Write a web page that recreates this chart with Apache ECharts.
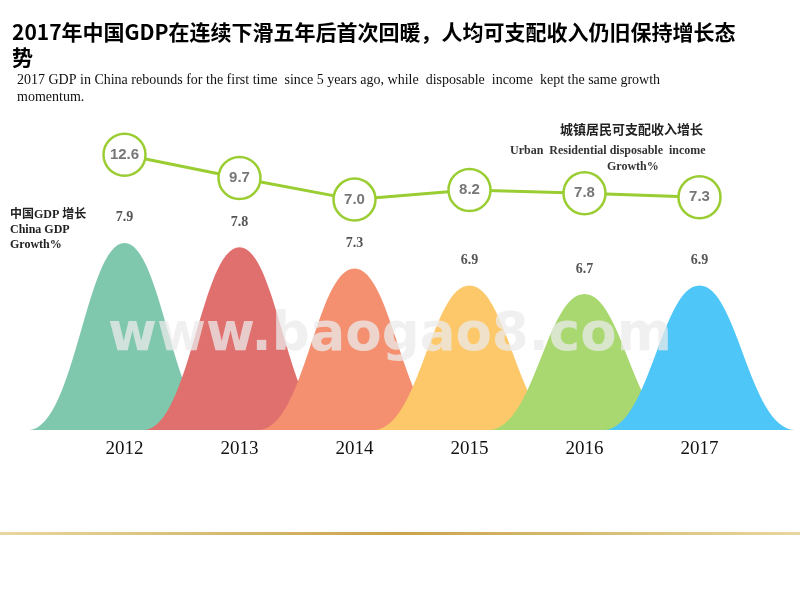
<!DOCTYPE html>
<html><head><meta charset="utf-8">
<script src="https://cdn.jsdelivr.net/npm/echarts@6/dist/echarts.min.js"></script>
<style>html,body{margin:0;background:#fff}#c{width:800px;height:600px}</style></head>
<body><div id="c"></div>
<script>
const years = ['2012','2013','2014','2015','2016','2017'];
const gdpGrowth = [7.9, 7.8, 7.3, 6.9, 6.7, 6.9];
const incomeGrowth = [12.6, 9.7, 7.0, 8.2, 7.8, 7.3];
const peakColors = ['#7fc8ad','#e0706e','#f48f70','#fdc86a','#a8d86f','#4ec6f8'];
const peakBase = 3.5;

const chart = echarts.init(document.getElementById('c'));
const serif = '"Liberation Serif","Noto Sans CJK SC",serif';
chart.setOption({
  backgroundColor:'#fff',
  grid:{left:67,right:43,top:100,bottom:170},
  xAxis:{type:'category',data:years,axisLine:{show:false},axisTick:{show:false},
    axisLabel:{fontFamily:serif,fontSize:19,color:'#111',margin:10}},
  yAxis:[{type:'value',min:0,max:7.76,show:false},
         {type:'value',min:-21.8,max:19.45,show:false}],
  graphic:[
    {type:'text',left:12,top:20,style:{text:'2017年中国GDP在连续下滑五年后首次回暖，人均可支配收入仍旧保持增长态\n势',font:'bold 21px "Noto Sans CJK SC"',fill:'#000',lineHeight:25}},
    {type:'text',left:17,top:72,style:{text:'2017 GDP in China rebounds for the first time  since 5 years ago, while  disposable  income  kept the same growth\nmomentum.',font:'14px '+serif,fill:'#111',lineHeight:17}},
    {type:'text',left:10,top:207,style:{text:'中国GDP 增长\nChina GDP\nGrowth%',font:'bold 12px '+serif,fill:'#222',align:'center',lineHeight:15,x:45}},
    {type:'text',left:560,top:123,style:{text:'城镇居民可支配收入增长',font:'bold 13px "Noto Sans CJK SC"',fill:'#222'}},
    {type:'text',left:510,top:145,style:{text:'Urban  Residential disposable  income',font:'bold 12px '+serif,fill:'#333'}},
    {type:'text',left:607,top:161,style:{text:'Growth%',font:'bold 12px '+serif,fill:'#333'}},
    {type:'rect',shape:{x:0,y:532,width:800,height:3},z:0,style:{fill:new echarts.graphic.LinearGradient(0,0,1,0,[{offset:0,color:'#e8d6a0'},{offset:0.5,color:'#c9a44a'},{offset:1,color:'#e8d6a0'}])}},
    {type:'text',left:108,top:310,z:100,style:{text:'www.baogao8.com',font:'bold 53px "DejaVu Sans"',fill:'rgba(235,235,235,0.75)'}}
  ],
  series:[
    {type:'pictorialBar',yAxisIndex:0,barCategoryGap:'-100%',
     symbol:'path://M0,100 C24,98 30,0 50,0 C70,0 76,98 100,100 z',
     symbolSize:[190,'100%'],
     data:gdpGrowth.map((v,i)=>({value:v-peakBase,itemStyle:{color:peakColors[i]}})),
     label:{show:true,position:'top',distance:18,fontFamily:serif,fontWeight:'bold',fontSize:14,color:'#555',
       formatter:p=>gdpGrowth[p.dataIndex].toFixed(1)},z:2},
    {type:'line',yAxisIndex:1,data:incomeGrowth,symbol:'circle',symbolSize:42,
     lineStyle:{color:'#9acd32',width:3},
     itemStyle:{color:'#fff',borderColor:'#9acd32',borderWidth:2.5},
     label:{show:true,position:'inside',fontSize:15,fontWeight:'bold',color:'#777',fontFamily:'"Liberation Sans"',formatter:p=>p.value.toFixed(1)},z:5}
  ]
});
</script></body></html>
